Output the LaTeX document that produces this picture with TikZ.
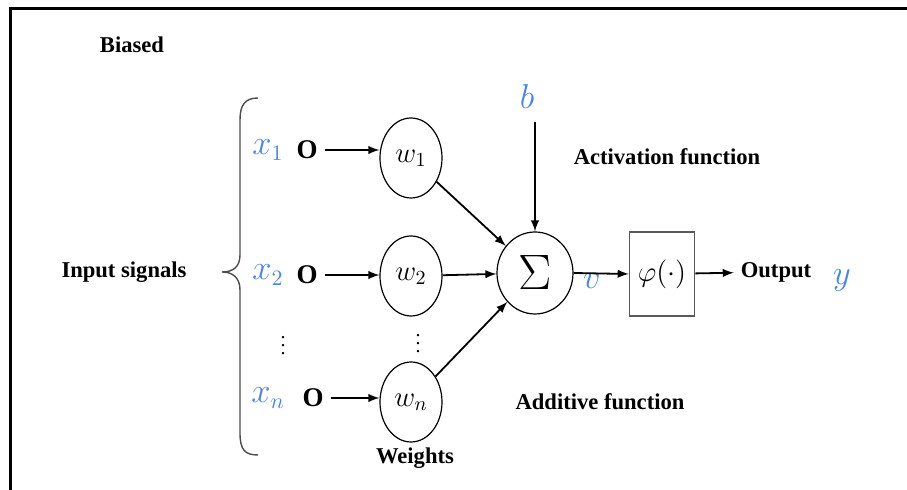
\documentclass[tikz,border=0pt]{standalone}
\usepackage{fontspec}
\setmainfont{Liberation Serif}
\usetikzlibrary{shapes.geometric}
\definecolor{signalblue}{RGB}{74,134,222}

\begin{document}
\begin{tikzpicture}[x=0.5pt,y=-0.5pt,>=latex,
    lbl/.style={font=\fontsize{11.3}{13}\selectfont\bfseries},
    sym/.style={text=signalblue,font=\fontsize{16}{18}\selectfont},
    wgt/.style={draw,ellipse,line width=0.6pt,minimum width=31pt,minimum height=40pt,inner sep=0pt,font=\fontsize{14}{16}\selectfont},
    conn/.style={->,line width=0.9pt}]
    \useasboundingbox (0,0) rectangle (907,490);
    \draw[line width=1.5pt] (10,490) -- (10,9) -- (907,9);

    \node[lbl] (biased) at (132,45) {Biased};
    \node[lbl] (inputs) at (124,272) {Input signals};

    % Brace
    \draw[gray!60!black,line width=0.7pt] (258,98) .. controls (245,98) and (240,105) .. (240,120) -- (240,255)
        .. controls (240,267) and (233,272) .. (222,272) .. controls (233,272) and (240,278) .. (240,290)
        -- (240,433) .. controls (240,450) and (245,455) .. (258,455);

    % Input rows
    \foreach \i/\sy/\ox/\wy in {1/150/307/158, 2/275/307/276, n/398/313/402} {
        \node[sym] (x\i) at (268,\sy) {$x_{\i}$};
        \node[lbl,font=\fontsize{13.5}{15}\selectfont\bfseries] (o\i) at (\ox,\sy) {O};
        \node[wgt] (w\i) at (411,\wy) {$w_{\i}$};
        \draw[conn] (o\i.east) -- (o\i.east -| w\i.west);
    }
    \node[inner sep=0pt] (dotsx) at (283,340) {$\vdots$};
    \node[inner sep=0pt] (dotsw) at (418,338) {$\vdots$};
    \node[lbl] (weights) at (415,458) {Weights};

    % Summation
    \node[draw,ellipse,line width=0.6pt,minimum width=38pt,minimum height=41pt,inner sep=0pt] (sum) at (535,273) {\fontsize{28}{28}\selectfont$\Sigma$};
    \foreach \i in {1,2,n}
        \draw[conn] (w\i) -- (sum);
    \node[sym] (bias) at (527,97) {$b$};
    \coordinate (btop) at (535,122);
    \draw[conn] (btop) -- (sum);
    \node[lbl] (addlab) at (600,402) {Additive function};

    % Activation
    \node[draw=gray!70!black,line width=0.8pt,minimum width=32.5pt,minimum height=42pt,inner sep=1pt,font=\fontsize{14}{16}\selectfont] (act) at (662,274) {$\varphi(\cdot)$};
    \node[sym] (v) at (592,281) {$v$};
    \draw[conn] (sum.east) -- (act.west);
    \node[lbl] (actlab) at (667,157) {Activation function};

    % Output
    \node[lbl] (out) at (776,272) {Output};
    \draw[conn] (act) -- (out);
    \node[sym] (y) at (842,280) {$y$};
\end{tikzpicture}
\end{document}
